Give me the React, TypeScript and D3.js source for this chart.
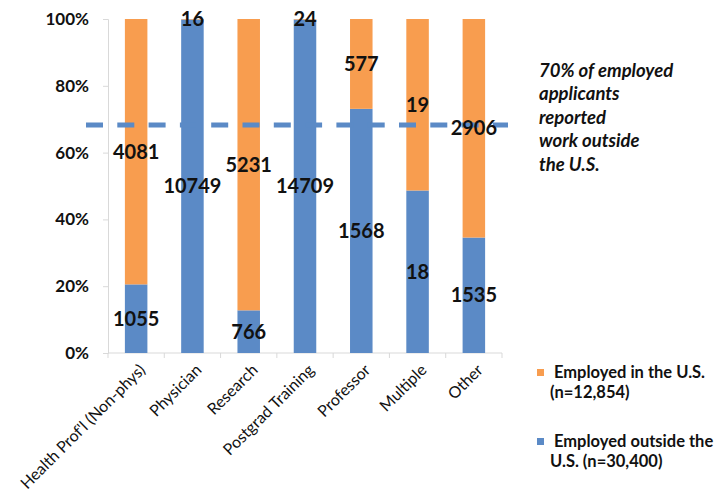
import React, { useEffect, useRef } from 'react';
import * as d3 from 'd3';

// job categories along the x axis
const categories = [
  "Health Prof'l (Non-phys)",
  'Physician',
  'Research',
  'Postgrad Training',
  'Professor',
  'Multiple',
  'Other'
];

// counts per category
const outsideUS = [1055, 10749, 766, 14709, 1568, 18, 1535];
const inUS = [4081, 16, 5231, 24, 577, 19, 2906];

const yTicks = [0, 0.2, 0.4, 0.6, 0.8, 1];

// reference line share (as drawn)
const refShare = 0.683;

const noteLines = ['70% of employed', 'applicants', 'reported', 'work outside', 'the U.S.'];

const legendItems = [
  { key: 'inUS', lines: ['Employed in the U.S.', '(n=12,854)'] },
  { key: 'outsideUS', lines: ['Employed outside the', 'U.S. (n=30,400)'] }
];

const BLUE = '#5B8AC6';
const ORANGE = '#F89D4F';
const FONT = 'Lato, "Open Sans", sans-serif';

const App = () => {
  const ref = useRef<SVGSVGElement | null>(null);

  const W = 724;
  const H = 495;
  const plot = { left: 108, right: 502, top: 19, bottom: 353 };

  useEffect(() => {
    if (!ref.current) return;
    const svg = d3.select(ref.current);
    svg.selectAll('*').remove();

    const rows = categories.map((c, i) => ({ cat: c, outsideUS: outsideUS[i], inUS: inUS[i] }));
    const stack = d3.stack<any>()
      .keys(['outsideUS', 'inUS'])
      .offset(d3.stackOffsetExpand);
    const series = stack(rows);

    const x = d3.scaleBand<string>()
      .domain(categories)
      .range([plot.left, plot.right])
      .padding(0);

    const y = d3.scaleLinear()
      .domain([0, 1])
      .range([plot.bottom, plot.top]);

    const color = d3.scaleOrdinal<string, string>()
      .domain(['outsideUS', 'inUS'])
      .range([BLUE, ORANGE]);

    const bw = x.bandwidth();
    const barW = bw * 0.4;

    // y axis
    const yAxis = svg.append('g')
      .attr('transform', `translate(${plot.left},0)`)
      .call(d3.axisLeft(y).tickValues(yTicks).tickSize(5).tickPadding(14).tickFormat(d3.format('.0%')));
    yAxis.select('.domain').attr('stroke', '#d9d9d9');
    yAxis.selectAll('.tick line').attr('stroke', '#d9d9d9');
    yAxis.selectAll('.tick text')
      .attr('fill', '#111')
      .style('font-family', FONT)
      .style('font-weight', 'bold')
      .style('font-size', '17px');

    // x axis line and boundary ticks
    svg.append('line')
      .attr('x1', plot.left).attr('x2', plot.right)
      .attr('y1', plot.bottom).attr('y2', plot.bottom)
      .attr('stroke', '#d9d9d9');
    svg.append('g')
      .selectAll('line')
      .data(categories.concat(['__end']))
      .enter().append('line')
      .attr('x1', (d, i) => plot.left + i * bw)
      .attr('x2', (d, i) => plot.left + i * bw)
      .attr('y1', plot.bottom)
      .attr('y2', plot.bottom + 5)
      .attr('stroke', '#d9d9d9');

    // bars
    const layers = svg.append('g')
      .selectAll('g')
      .data(series)
      .enter().append('g')
      .attr('fill', d => color(d.key));

    layers.selectAll('rect')
      .data(d => d)
      .enter().append('rect')
      .attr('x', d => (x(d.data.cat) as number) + (bw - barW) / 2)
      .attr('y', d => y(d[1]))
      .attr('width', barW)
      .attr('height', d => y(d[0]) - y(d[1]));

    // reference dashed line
    svg.append('line')
      .attr('x1', 86)
      .attr('x2', 508)
      .attr('y1', y(refShare))
      .attr('y2', y(refShare))
      .attr('stroke', BLUE)
      .attr('stroke-width', 5)
      .attr('stroke-dasharray', '17,14.3');

    // data labels
    series.forEach(s => {
      svg.append('g')
        .selectAll('text')
        .data(s)
        .enter().append('text')
        .attr('x', d => (x(d.data.cat) as number) + bw / 2)
        .attr('y', d => (y(d[0]) + y(d[1])) / 2)
        .attr('dy', '0.36em')
        .attr('text-anchor', 'middle')
        .attr('fill', '#111')
        .style('font-family', FONT)
        .style('font-weight', 'bold')
        .style('font-size', '20px')
        .text(d => d.data[s.key]);
    });

    // category labels
    svg.append('g')
      .selectAll('text')
      .data(categories)
      .enter().append('text')
      .attr('transform', d => `translate(${(x(d) as number) + bw / 2 + 2},${plot.bottom + 10}) rotate(-45)`)
      .attr('dy', '0.71em')
      .attr('text-anchor', 'end')
      .attr('fill', '#111')
      .style('font-family', FONT)
      .style('font-size', '16px')
      .text(d => d);

    // annotation
    svg.append('text')
      .attr('x', 539)
      .attr('y', 77)
      .attr('fill', '#111')
      .style('font-family', FONT)
      .style('font-weight', 'bold')
      .style('font-style', 'italic')
      .style('font-size', '18.5px')
      .selectAll('tspan')
      .data(noteLines)
      .enter().append('tspan')
      .attr('x', 539)
      .attr('dy', (d, i) => (i === 0 ? 0 : 23.4))
      .text(d => d);

    // legend
    const legendY = [378, 447];
    const lg = svg.append('g')
      .selectAll('g')
      .data(legendItems)
      .enter().append('g');
    lg.append('rect')
      .attr('x', 537)
      .attr('y', (d, i) => legendY[i] - 9)
      .attr('width', 7)
      .attr('height', 7)
      .attr('fill', d => color(d.key));
    lg.append('text')
      .attr('y', (d, i) => legendY[i])
      .attr('fill', '#111')
      .style('font-family', FONT)
      .style('font-weight', 'bold')
      .style('font-size', '16.5px')
      .selectAll('tspan')
      .data(d => d.lines)
      .enter().append('tspan')
      .attr('x', (d, i) => (i === 0 ? 554 : 550))
      .attr('dy', (d, i) => (i === 0 ? 0 : 20))
      .text(d => d);
  }, []);

  return (
    <svg
      ref={ref}
      width={W}
      height={H}
      style={{ position: 'absolute', left: 0, top: 0, background: '#fff' }}
    />
  );
};

export default App;
